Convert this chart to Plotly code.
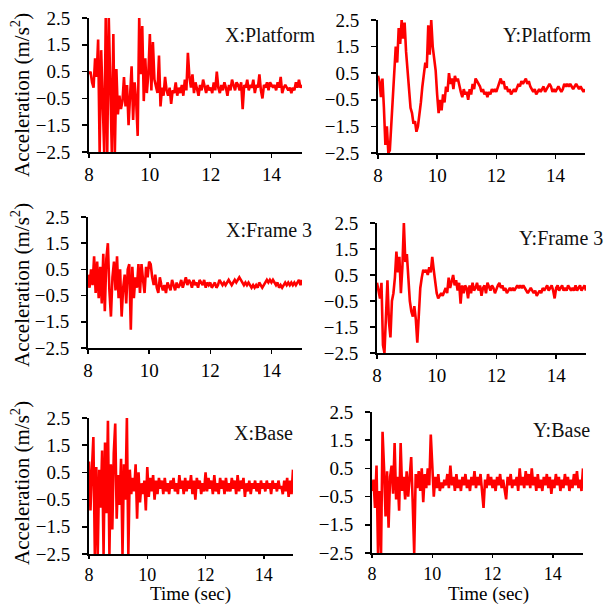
import numpy as np
import plotly.graph_objects as go

# ---------------- data (acceleration, m/s^2, sampled every 0.05 s from 8 to 15 s) ----------------
x_platform = [
    0.4, 0.5, 0.1, -0.1, 1.0, 0.3, 1.7, -2.5, 1.3, -0.8, -2.5, 2.5, -2.5, 2.5, -0.8, -2.5, 1.9, -2.5, 0.6, -1.1,
    -0.4, -0.9, -0.6, 0.3, -0.8, 0.0, -1.5, -0.2, 0.7, -1.3, 0.1, -0.6, -1.9, 2.5, 0.4, 2.2, -0.6, 1.0, -0.3, 0.4,
    1.9, -0.2, 1.6, 0.2, -0.1, -0.3, 1.1, -0.8, -0.1, -0.4, 0.3, -0.2, -0.4, -0.1, -0.7, -0.2, -0.3, 0.1, -0.4, -0.1,
    -0.3, 0.0, -0.4, 0.2, -0.2, 1.2, 0.3, -0.1, 0.4, -0.3, 0.1, -0.2, -0.4, 0.0, -0.2, 0.2, -0.1, -0.3, 0.0, -0.2,
    -0.1, -0.3, 0.1, -0.2, 0.5, -0.1, -0.3, 0.0, -0.2, 0.1, -0.1, -0.4, 0.0, -0.2, 0.2, 0.0, -0.2, 0.1, 0.0, -0.2,
    0.1, -0.9, 0.0, -0.1, 0.2, -0.2, 0.0, -0.1, 0.2, -0.3, 0.0, -0.1, 0.4, -0.2, -0.5, 0.0, -0.1, 0.1, -0.2, 0.1,
    0.0, -0.1, 0.0, -0.2, 0.1, -0.1, 0.3, -0.3, -0.1, 0.0, -0.1, -0.2, -0.1, -0.3, -0.1, -0.2, 0.1, -0.1, 0.2, -0.1,
    0.0,
]
y_platform = [
    0.4, 0.2, -0.4, 0.3, -0.8, -2.2, -1.5, -2.5, -2.4, -1.4, -0.6, 0.1, 1.5, 0.9, 2.2, 1.6, 2.5, 1.8, 2.4, 1.3,
    0.6, -0.2, -0.8, -1.0, -1.4, -1.3, -1.7, -1.5, -1.1, -0.6, 0.0, 0.4, 0.9, 0.7, 2.3, 1.2, 2.5, 1.5, 1.1, 0.6,
    -0.3, -1.0, -0.5, -0.9, -0.3, -0.6, 0.0, -0.2, 0.5, 0.1, 0.3, -0.1, 0.4, 0.2, 0.3, 0.0, -0.2, -0.4, -0.1, -0.3,
    -0.2, -0.5, -0.1, -0.3, 0.1, -0.1, 0.3, 0.2, 0.1, 0.0, -0.2, -0.1, -0.3, -0.2, -0.4, -0.2, -0.3, -0.1, -0.2, -0.1,
    -0.2, 0.0, 0.2, 0.3, 0.1, 0.2, -0.1, 0.0, -0.2, -0.1, -0.3, -0.2, -0.1, -0.2, 0.0, 0.1, 0.0, 0.2, 0.1, 0.2,
    0.3, 0.1, 0.2, 0.0, -0.1, -0.2, -0.1, -0.3, -0.2, -0.1, -0.2, -0.1, 0.0, -0.2, -0.1, 0.0, 0.1, 0.0, -0.2, -0.1,
    -0.2, -0.1, 0.0, -0.1, -0.2, -0.1, 0.1, 0.0, 0.1, 0.0, 0.1, 0.0, -0.1, 0.0, 0.1, 0.0, -0.1, 0.0, -0.1, -0.2,
    -0.1,
]
x_frame3 = [
    0.3, -0.2, 0.5, -0.1, 1.0, -0.4, 0.8, -0.6, 0.6, -0.8, 1.1, -1.1, 0.9, 1.5, -0.3, -1.3, 0.2, 0.8, -0.3, 1.0,
    -0.6, 0.5, -1.3, -0.2, 0.3, -0.8, 0.5, 0.7, -1.8, 0.6, -0.6, 0.2, -0.2, 0.7, -0.4, 0.7, 0.1, -0.4, 0.6, 0.2,
    0.8, 0.7, 0.2, -0.1, 0.3, -0.2, -0.4, 0.2, -0.1, -0.3, -0.1, -0.4, 0.0, -0.2, -0.3, 0.1, -0.1, -0.3, 0.0, -0.2,
    -0.1, 0.1, -0.2, 0.0, 0.2, -0.1, 0.1, 0.0, -0.2, 0.1, -0.1, 0.0, -0.2, 0.1, 0.0, -0.1, 0.1, -0.2, 0.0, -0.1,
    0.0, -0.2, -0.1, 0.0, -0.2, -0.1, 0.1, 0.0, -0.1, 0.0, -0.1, 0.0, 0.1, 0.0, -0.1, 0.0, 0.1, 0.0, 0.1, 0.2,
    0.1, 0.0, -0.1, 0.0, -0.1, 0.0, -0.1, -0.2, -0.1, -0.2, -0.1, -0.2, 0.0, -0.1, -0.2, -0.1, 0.0, 0.1, 0.0, 0.1,
    0.0, 0.1, 0.0, -0.1, 0.0, -0.2, -0.1, -0.2, -0.1, 0.0, -0.1, 0.0, -0.1, 0.0, -0.1, 0.0, -0.1, 0.0, 0.1, -0.1,
    0.1,
]
y_frame3 = [
    0.2, -0.1, -0.4, 0.2, -2.2, -2.5, -1.2, 0.3, -1.3, -1.9, -0.5, -0.2, 0.4, 1.4, 0.6, 1.2, -0.2, 0.8, 2.5, 1.0,
    1.3, 0.2, -0.5, -0.9, -1.1, -0.7, -1.2, -2.1, -0.9, 0.0, 0.4, 0.7, 0.6, 0.7, 0.5, 0.8, 0.6, 1.2, 0.7, 0.2,
    -0.2, -0.4, -0.3, -0.2, -0.3, -0.1, 0.0, -0.2, 0.4, 0.0, 0.2, 0.5, 0.1, 0.3, -0.1, 0.2, -0.6, 0.1, -0.2, 0.1,
    0.0, -0.4, 0.1, -0.2, 0.2, -0.1, 0.0, 0.2, -0.1, 0.1, -0.3, 0.0, 0.1, -0.2, 0.2, 0.0, -0.1, 0.1, 0.0, -0.2,
    0.0, 0.1, 0.2, 0.0, 0.1, -0.1, 0.0, -0.2, -0.1, 0.0, -0.1, 0.0, -0.1, 0.0, 0.1, 0.0, 0.1, 0.0, 0.1, 0.0,
    -0.1, -0.2, -0.1, 0.0, -0.1, -0.2, -0.1, -0.3, -0.2, -0.1, -0.2, 0.0, -0.1, 0.0, 0.1, -0.1, 0.0, 0.1, -0.1, -0.4,
    0.0, 0.1, -0.1, 0.0, 0.1, -0.1, 0.0, -0.1, 0.1, 0.0, -0.1, 0.0, -0.1, 0.1, -0.1, 0.0, 0.1, -0.1, 0.0, 0.1,
    -0.1,
]
x_base = [
    0.9, -0.9, 0.6, 1.8, -2.5, 0.7, -2.5, 0.6, -0.8, 1.3, -2.5, 1.6, -1.0, 2.4, -2.5, 0.8, -1.6, 1.2, 2.3, -1.2,
    0.4, -0.7, 1.0, -2.5, 0.8, -0.5, 2.5, -2.5, 0.6, -0.3, 0.3, -0.2, 0.8, -1.2, 0.5, -0.6, 0.1, -0.3, 0.2, -0.9,
    0.7, -0.4, 0.3, -0.2, 0.4, -0.5, 0.2, -0.3, 0.3, -0.1, 0.2, -0.3, 0.3, -0.2, 0.1, -0.3, 0.2, -0.1, 0.3, -0.2,
    0.1, -0.3, 0.4, -0.1, 0.2, -0.3, 0.3, -0.2, 0.2, -0.1, 0.4, -0.3, 0.2, -0.5, 0.3, -0.1, 0.2, -0.3, 0.1, -0.2,
    0.5, -0.2, 0.3, -0.1, 0.2, -0.3, 0.4, -0.2, 0.1, -0.3, 0.3, -0.1, 0.2, -0.3, 0.3, -0.2, 0.1, -0.2, 0.3, -0.1,
    0.2, -0.3, 0.4, -0.2, 0.2, -0.1, 0.3, -0.4, 0.1, -0.2, 0.2, -0.3, 0.1, -0.1, 0.2, -0.2, 0.1, -0.3, 0.2, -0.1,
    0.1, -0.2, 0.2, -0.1, 0.1, -0.3, 0.2, -0.1, 0.1, -0.2, 0.2, -0.1, 0.0, -0.3, 0.2, -0.2, 0.3, -0.4, 0.2, -0.3,
    0.6,
]
y_base = [
    -0.3, 0.1, -0.9, 0.6, -2.5, -0.3, -2.5, 1.8, 0.5, -1.2, 0.4, -1.6, 0.2, 0.6, -0.4, 1.4, -0.6, 0.2, -1.0, 1.4,
    -0.3, 0.2, -0.6, 0.4, -0.5, 0.1, 0.9, -0.7, -2.5, 0.3, -0.2, 0.4, -0.3, 0.5, -0.7, 0.3, -0.2, 0.5, -0.1, 1.7,
    0.3, -0.5, 0.2, -0.2, 0.3, -0.3, 0.0, -0.2, 0.1, -0.1, 0.3, -0.2, 0.6, -0.1, 0.2, -0.3, 0.3, -0.2, 0.1, -0.3,
    0.2, -0.1, 0.3, -0.2, 0.1, -0.3, 0.2, -0.1, 0.4, -0.2, 0.2, -0.1, 0.3, -0.3, -0.9, 0.1, -0.2, 0.3, -0.1, 0.2,
    -0.2, 0.1, -0.3, 0.2, -0.1, 0.3, -0.2, 0.1, -0.3, -0.6, 0.2, -0.1, 0.3, -0.2, 0.1, -0.1, 0.2, -0.3, 0.5, -0.1,
    0.2, -0.2, 0.4, -0.1, 0.3, -0.2, 0.5, -0.1, 0.2, -0.3, 0.3, -0.2, 0.1, -0.3, 0.2, -0.1, 0.3, -0.2, 0.2, -0.4,
    0.1, -0.2, 0.3, -0.1, 0.2, -0.3, 0.1, -0.2, 0.3, -0.1, 0.2, -0.3, 0.1, -0.2, 0.3, -0.1, 0.4, -0.2, 0.1, -0.3,
    0.5,
]

panel_titles = ["X:Platform", "Y:Platform", "X:Frame 3", "Y:Frame 3", "X:Base", "Y:Base"]
series = [x_platform, y_platform, x_frame3, y_frame3, x_base, y_base]
x_ticks = [8, 10, 12, 14]
y_ticks = [-2.5, -1.5, -0.5, 0.5, 1.5, 2.5]
t_start, t_end = 8.0, 15.0

# ---------------- layout geometry (pixels) ----------------
W, H = 607, 605
# (left, right, top, bottom) of each plot area
boxes = [
    (89, 302, 18, 152),
    (378, 585, 20, 153),
    (88, 302, 217, 348),
    (377, 586, 223, 353),
    (89, 293, 418, 554),
    (372, 583, 412, 553),
]
# title anchor (right x, center y)
title_pos = [(317, 35), (594, 35), (314, 230), (605, 238), (295, 433), (592, 430)]

FONT = "Liberation Serif"

fig = go.Figure()
layout = dict(
    width=W, height=H, autosize=False,
    margin=dict(l=0, r=0, t=0, b=0, autoexpand=False),
    paper_bgcolor="white", plot_bgcolor="white",
    showlegend=False,
    font=dict(family=FONT, size=18, color="black"),
)
annotations = []
for i, (vals, box) in enumerate(zip(series, boxes)):
    n = i + 1
    xa = "x" if n == 1 else f"x{n}"
    ya = "y" if n == 1 else f"y{n}"
    t = np.linspace(t_start, t_end, len(vals))
    fig.add_trace(go.Scatter(
        x=t, y=vals, mode="lines", xaxis=xa, yaxis=ya,
        line=dict(color="#ff0000", width=2.6), hoverinfo="skip",
    ))
    l, r, tp, b = box
    bottom_row = n >= 5
    axis_common = dict(
        showgrid=False, zeroline=False, showline=True, linecolor="black", linewidth=2,
        ticks="outside", tickwidth=1.5, tickcolor="black", automargin=False,
    )
    layout["xaxis" if n == 1 else f"xaxis{n}"] = dict(
        axis_common, domain=[l / W, r / W], range=[t_start, t_end],
        tickvals=x_ticks, anchor=ya, ticklen=3 if bottom_row else 4, ticklabelstandoff=0,
        tickfont=dict(family=FONT, size=18 if bottom_row else 19, color="black"),
    )
    layout["yaxis" if n == 1 else f"yaxis{n}"] = dict(
        axis_common, domain=[1 - b / H, 1 - tp / H], range=[-2.5, 2.5],
        tickvals=y_ticks, tickformat=".1f", anchor=xa, ticklen=5, ticklabelstandoff=8,
        tickfont=dict(family=FONT, size=19, color="black"),
    )
    tx, ty = title_pos[i]
    annotations.append(dict(
        text=panel_titles[i], xref="paper", yref="paper", x=tx / W, y=1 - ty / H,
        xanchor="right", yanchor="middle", showarrow=False,
        font=dict(family=FONT, size=20, color="#111"),
    ))

# y-axis titles (left column)
for cy in [95, 285, 483]:
    annotations.append(dict(
        text="Acceleration (m/s<sup>2</sup>)", xref="paper", yref="paper",
        x=20 / W, y=1 - cy / H, xanchor="center", yanchor="middle",
        textangle=-90, showarrow=False, font=dict(family=FONT, size=21, color="black"),
    ))
# x-axis titles (bottom row)
for cx in [190, 488]:
    annotations.append(dict(
        text="Time (sec)", xref="paper", yref="paper", x=cx / W, y=1 - 594 / H,
        xanchor="center", yanchor="middle", showarrow=False,
        font=dict(family=FONT, size=19, color="black"),
    ))
layout["annotations"] = annotations
fig.update_layout(**layout)
fig.write_html(
    "out.html",
    config={"displayModeBar": False, "staticPlot": True},
    post_script="document.body.style.margin='0';document.body.style.overflow='hidden';",
)
